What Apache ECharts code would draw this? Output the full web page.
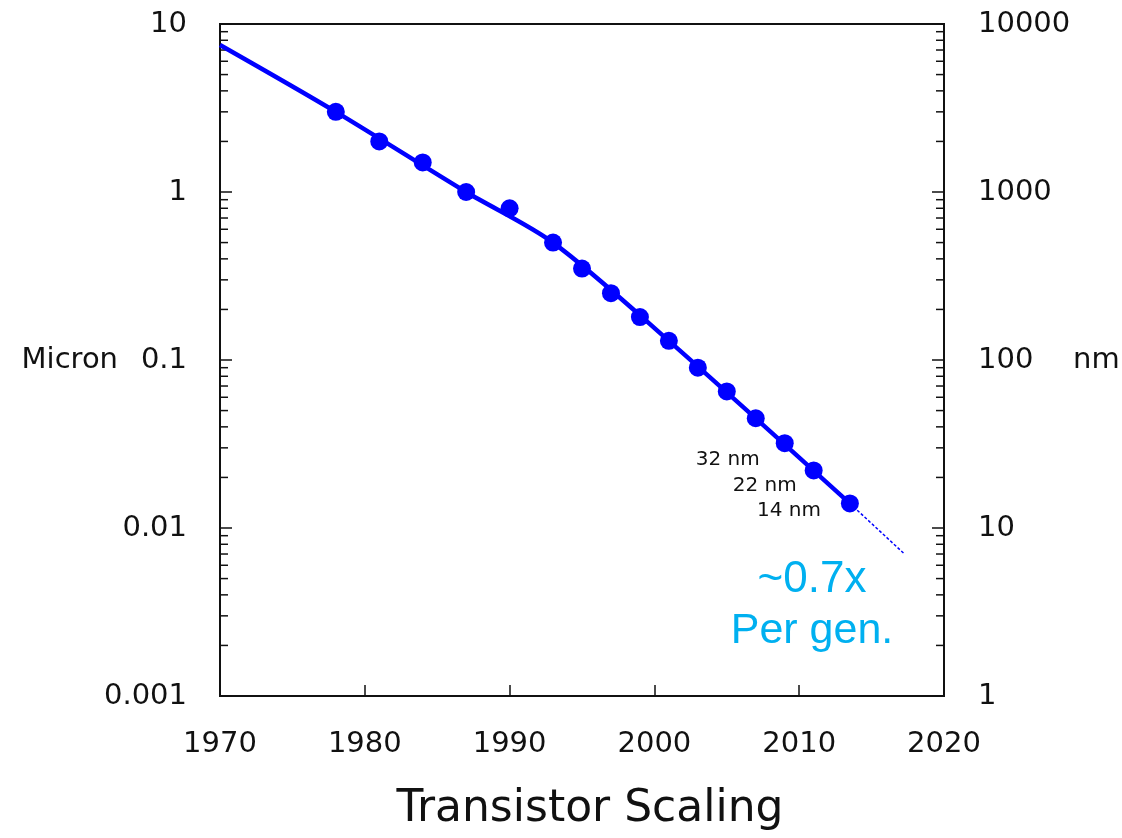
<!DOCTYPE html>
<html>
<head>
<meta charset="utf-8">
<script src="https://cdn.jsdelivr.net/npm/echarts@6/dist/echarts.min.js"></script>
<style>
  html, body { margin: 0; padding: 0; background: #fff; }
  #chart { width: 1122px; height: 838px; }
</style>
</head>
<body>
<div id="chart"></div>
<script>
// process nodes (year, feature size in micron)
const nodeYears = [1978, 1981, 1984, 1987, 1990, 1993, 1995, 1997, 1999, 2001, 2003, 2005, 2007, 2009, 2011, 2013.5];
const nodeMicron = [3.0, 2.0, 1.5, 1.0, 0.8, 0.5, 0.35, 0.25, 0.18, 0.13, 0.09, 0.065, 0.045, 0.032, 0.022, 0.014];
const nodeLabels = { 2009: "32 nm", 2011: "22 nm", 2013.5: "14 nm" };

// trend line (fit) and projection
const trendYears = [1970, 1978, 1987, 1993, 2001, 2013.5];
const trendMicron = [7.5, 3.0, 1.0, 0.5, 0.13, 0.014];
const projYears = [2013.5, 2017.2];
const projMicron = [0.014, 0.0071];

const xTicks = [1970, 1980, 1990, 2000, 2010, 2020];
const micronTicks = [0.001, 0.01, 0.1, 1, 10];
const nmTicks = [1, 10, 100, 1000, 10000];
const minorSteps = [2, 3, 4, 5, 6, 7, 8, 9];

// log minor ticks 2..9 in each decade (ECharts minorTick is linear in log space)
const minorTicks = [];
micronTicks.slice(0, -1).forEach((d) => {
  minorSteps.forEach((k) => minorTicks.push(+(d * k).toPrecision(3)));
});

const chart = echarts.init(document.getElementById("chart"));
const font = "DejaVu Sans";
const axisColor = "#111";
const xMin = xTicks[0];
const xMax = xTicks[xTicks.length - 1];

const labelOffsets = { 2009: [-11, 17], 2011: [-3, 15], 2013.5: [-15, 7] };

const option = {
  animation: false,
  textStyle: { fontFamily: font },
  title: {
    text: "Transistor Scaling",
    left: 585,
    top: 783,
    textAlign: "center",
    textStyle: { fontSize: 44, fontWeight: "normal", color: "#111", fontFamily: font },
  },
  grid: {
    left: 220,
    top: 24,
    width: 724,
    height: 672,
    show: true,
    borderColor: axisColor,
    borderWidth: 2,
    outerBoundsMode: "none",
  },
  xAxis: {
    type: "value",
    min: xMin,
    max: xMax,
    interval: 10,
    axisLine: { show: true, lineStyle: { color: axisColor, width: 2 } },
    axisTick: { inside: true, length: 11, lineStyle: { color: axisColor, width: 1.5 } },
    splitLine: { show: false },
    axisLabel: { fontSize: 29, color: "#111", margin: 34, fontFamily: font, formatter: (v) => String(v) },
  },
  yAxis: [
    {
      type: "log",
      logBase: 10,
      min: micronTicks[0],
      max: micronTicks[micronTicks.length - 1],
      name: "Micron",
      nameLocation: "middle",
      nameRotate: 0,
      nameGap: 102,
      nameMoveOverlap: false,
      nameTextStyle: { fontSize: 29, color: "#111", align: "right", verticalAlign: "middle", padding: [0, 0, 10, 0], fontFamily: font },
      axisLine: { show: true, lineStyle: { color: axisColor, width: 2 } },
      axisTick: { inside: true, length: 12, lineStyle: { color: axisColor, width: 1.5 } },
      splitLine: { show: false },
      axisLabel: { fontSize: 29, color: "#111", margin: 33, fontFamily: font, formatter: (v) => String(+v.toPrecision(3)) },
    },
    {
      type: "log",
      logBase: 10,
      position: "right",
      min: nmTicks[0],
      max: nmTicks[nmTicks.length - 1],
      name: "nm",
      nameLocation: "middle",
      nameRotate: 0,
      nameGap: 129,
      nameMoveOverlap: false,
      nameTextStyle: { fontSize: 29, color: "#111", align: "left", verticalAlign: "middle", padding: [0, 0, 10, 0], fontFamily: font },
      axisLine: { show: true, lineStyle: { color: axisColor, width: 2 } },
      axisTick: { inside: true, length: 12, lineStyle: { color: axisColor, width: 1.5 } },
      splitLine: { show: false },
      axisLabel: { fontSize: 29, color: "#111", margin: 34, fontFamily: font, formatter: (v) => String(Math.round(v)) },
    },
  ],
  graphic: [
    {
      type: "text",
      x: 812,
      y: 580,
      style: { text: "~0.7x", fontSize: 44, fill: "#00b0f0", textAlign: "center", textVerticalAlign: "middle", fontFamily: "Liberation Sans" },
    },
    {
      type: "text",
      x: 812,
      y: 631,
      style: { text: "Per gen.", fontSize: 43, fill: "#00b0f0", textAlign: "center", textVerticalAlign: "middle", fontFamily: "Liberation Sans" },
    },
  ],
  series: [
    {
      // minor log ticks on left and right axes
      type: "custom",
      silent: true,
      clip: false,
      data: minorTicks.map((v) => [xMin, v]),
      renderItem: (params, api) => {
        const v = api.value(1);
        const l = api.coord([xMin, v]);
        const r = api.coord([xMax, v]);
        const style = { stroke: axisColor, lineWidth: 1.5 };
        return {
          type: "group",
          children: [
            { type: "line", shape: { x1: l[0], y1: l[1], x2: l[0] + 8, y2: l[1] }, style },
            { type: "line", shape: { x1: r[0] - 8, y1: r[1], x2: r[0], y2: r[1] }, style },
          ],
        };
      },
      z: 1,
    },
    {
      type: "line",
      data: trendYears.map((y, i) => [y, trendMicron[i]]),
      smooth: 0.3,
      showSymbol: false,
      lineStyle: { color: "#0000ff", width: 4.5 },
      z: 2,
    },
    {
      type: "line",
      data: projYears.map((y, i) => [y, projMicron[i]]),
      showSymbol: false,
      lineStyle: { color: "#0000ff", width: 1.5, type: [3, 2] },
      z: 2,
    },
    {
      type: "scatter",
      symbolSize: 18,
      itemStyle: { color: "#0000ff", opacity: 1 },
      data: nodeYears.map((y, i) => {
        const item = { value: [y, nodeMicron[i]] };
        if (nodeLabels[y]) {
          item.label = {
            show: true,
            position: "left",
            distance: 5,
            offset: labelOffsets[y],
            formatter: nodeLabels[y],
            fontSize: 20,
            color: "#111",
            fontFamily: font,
          };
        }
        return item;
      }),
      z: 3,
    },
  ],
};

chart.setOption(option);
</script>
</body>
</html>
